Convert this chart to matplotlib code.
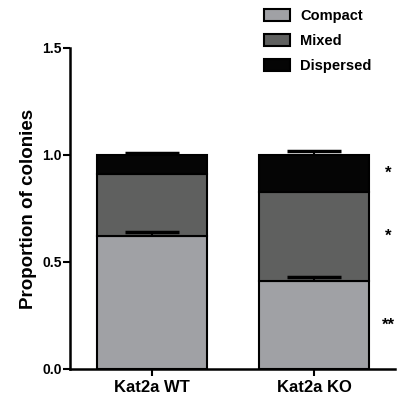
import numpy as np
import matplotlib.pyplot as plt
from matplotlib.patches import Patch

plt.rcParams['font.family'] = ['Liberation Sans', 'DejaVu Sans']
plt.rcParams['font.weight'] = 'bold'

# colony morphology proportions (mean, upper SEM)
grupos = ['Kat2a WT', 'Kat2a KO']
compact = [0.623, 0.411]
mixed = [0.287, 0.418]
dispersed = [0.090, 0.171]
err_compact = [0.018, 0.017]
err_dispersed = [0.011, 0.019]
estrellas = ['**', '*', '*']

colores = ['#a0a1a5', '#5f605f', '#050505']
nombres = ['Compact', 'Mixed', 'Dispersed']

fig = plt.figure(figsize=(4.06, 4.05), dpi=100)
ax = fig.add_axes([0.1724, 0.0889, 0.8006, 0.7926])

x = np.arange(len(grupos))
ancho = 0.673
base = np.zeros(len(grupos))
series = [compact, mixed, dispersed]
errores = [err_compact, None, err_dispersed]
for vals, errs, col in zip(series, errores, colores):
    vals = np.array(vals)
    ax.bar(x, vals, ancho, bottom=base, color=col, edgecolor='black',
           linewidth=1.5, zorder=2)
    top = base + vals
    if errs is not None:
        # only the upper half of the error bar, like prism
        ax.vlines(x, top, top + np.array(errs), color='black', lw=1.5, zorder=3)
        ax.hlines(top + np.array(errs), x - ancho / 4, x + ancho / 4,
                  color='black', lw=2.5, zorder=3)
    base = top

# significance marks next to KO bar
mitad = [compact[1] / 2, compact[1] + mixed[1] / 2,
         compact[1] + mixed[1] + dispersed[1] / 2]
for est, yy in zip(estrellas, mitad):
    ax.text(1.46, yy, est, ha='center', va='center', fontsize=12,
            fontweight='bold', clip_on=False)

ax.set_xlim(-0.506, 1.5)
ax.set_ylim(0, 1.5)
ax.set_yticks([0, 0.5, 1.0, 1.5])
ax.set_yticklabels(['0.0', '0.5', '1.0', '1.5'])
ax.set_xticks(x)
ax.set_xticklabels(grupos, fontsize=12, fontweight='bold')
ax.tick_params(axis='y', labelsize=10, width=1.5, length=5, pad=1)
ax.tick_params(axis='x', width=1.5, length=5, pad=3)
ax.set_ylabel('Proportion of colonies', fontsize=13.5, fontweight='bold',
              labelpad=4)
for lado in ['top', 'right']:
    ax.spines[lado].set_visible(False)
for lado in ['left', 'bottom']:
    ax.spines[lado].set_linewidth(1.8)

handles = [Patch(facecolor=c, edgecolor='black', linewidth=1.5, label=n)
           for c, n in zip(colores, nombres)]
fig.legend(handles=handles, loc='upper left', bbox_to_anchor=(0.618, 1.01),
           frameon=False, handlelength=1.8, handleheight=0.9,
           labelspacing=0.75, handletextpad=0.7,
           prop={'weight': 'bold', 'size': 10.5})

fig.savefig('out.png', dpi=100)
